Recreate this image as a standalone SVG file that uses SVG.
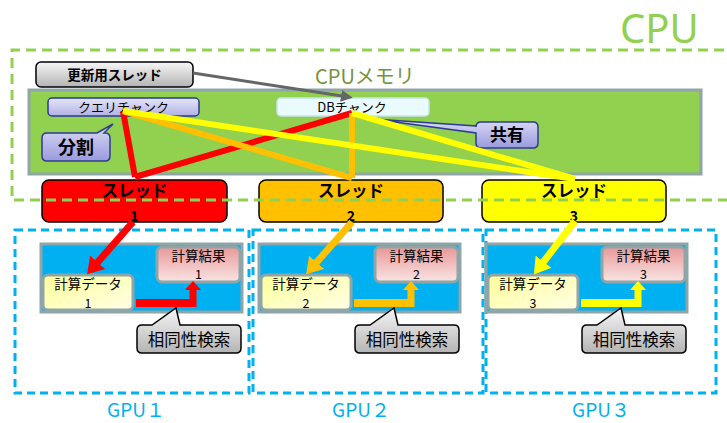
<svg xmlns="http://www.w3.org/2000/svg" width="727" height="423" viewBox="0 0 727 423">
<style>
.jp{font-family:"Noto Sans CJK JP","Noto Sans",sans-serif;}
.b{font-weight:bold;}
.thread{stroke:#000;stroke-width:1.5;}
.gmem{fill:#00b0f0;stroke:#8fa5a8;stroke-width:3;}
.inner{stroke:#8fa5a8;stroke-width:3;}
.gpubox{fill:none;stroke:#00b0f0;stroke-width:3;stroke-dasharray:8 5;}
.cpubox{fill:none;stroke:#92d050;stroke-width:3;stroke-dasharray:10 6;}
.ml{stroke-width:6;stroke-linecap:butt;fill:none;}
.gl{font-family:"Noto Sans CJK JP",sans-serif;font-size:19px;fill:#00b0f0;}
</style>
<defs>
<linearGradient id="gGray" x1="0" y1="0" x2="0" y2="1"><stop offset="0" stop-color="#f6f6f6"/><stop offset="1" stop-color="#b4b4b4"/></linearGradient>
<linearGradient id="gLav" x1="0" y1="0" x2="0" y2="1"><stop offset="0" stop-color="#e6e6f8"/><stop offset="1" stop-color="#b0b0e6"/></linearGradient>
<linearGradient id="gLav2" x1="0" y1="0" x2="0" y2="1"><stop offset="0" stop-color="#dcdcf6"/><stop offset="1" stop-color="#9a9ade"/></linearGradient>
<linearGradient id="gYel" x1="0" y1="0" x2="1" y2="1"><stop offset="0" stop-color="#ffff99"/><stop offset="1" stop-color="#fffee6"/></linearGradient>
<linearGradient id="gPink" x1="0" y1="0" x2="0" y2="1"><stop offset="0" stop-color="#e89898"/><stop offset="1" stop-color="#f9e4e4"/></linearGradient>
<marker id="arRed" viewBox="0 -10 16 20" refX="1" refY="0" markerWidth="16" markerHeight="20" markerUnits="userSpaceOnUse" orient="auto"><path d="M0,-10 L16,0 L0,10 z" fill="#ff0000"/></marker>
<marker id="arOrg" viewBox="0 -10 16 20" refX="1" refY="0" markerWidth="16" markerHeight="20" markerUnits="userSpaceOnUse" orient="auto"><path d="M0,-10 L16,0 L0,10 z" fill="#ffc000"/></marker>
<marker id="arYel" viewBox="0 -10 16 20" refX="1" refY="0" markerWidth="16" markerHeight="20" markerUnits="userSpaceOnUse" orient="auto"><path d="M0,-10 L16,0 L0,10 z" fill="#ffff00"/></marker>
<marker id="arGray" viewBox="0 -6 12 12" refX="1" refY="0" markerWidth="12" markerHeight="12" markerUnits="userSpaceOnUse" orient="auto"><path d="M0,-6 L12,0 L0,6 z" fill="#666666"/></marker>
</defs>

<g id="cpu-label">
<text x="620" y="43" font-family="'Noto Sans',sans-serif" font-size="40" fill="#92d050">CPU</text>
</g>
<g id="cpu-memory">
<text x="315" y="84" class="jp" font-size="20" fill="#76923c">CPUメモリ</text>
<rect x="29" y="90" width="672" height="84" fill="#92d050" stroke="#8fa5a8" stroke-width="3"/>
</g>
<g id="update-thread">
<rect x="36" y="62" width="157" height="25" rx="5" fill="url(#gGray)" stroke="#000" stroke-width="1.5"/>
<text x="114.5" y="80" class="jp b" font-size="13.5" text-anchor="middle">更新用スレッド</text>
</g>
<g id="query-chunk">
<rect x="48" y="98" width="151" height="18" rx="4" fill="url(#gLav)" stroke="#2a3990" stroke-width="1.5"/>
<text x="123.5" y="112" class="jp" font-size="13" text-anchor="middle">クエリチャンク</text>
</g>
<g id="db-chunk">
<rect x="277" y="98" width="152" height="18" rx="4" fill="#eafbfd" stroke="#c6e3ea" stroke-width="1.5"/>
<text x="352" y="112" class="jp" font-size="13" text-anchor="middle">DBチャンク</text>
</g>
<g id="split-callout">
<path d="M47,133 H97 L113,124 L104,133 H105 Q110,133 110,138 V156 Q110,161 105,161 H47 Q42,161 42,156 V138 Q42,133 47,133 Z" fill="url(#gLav2)" stroke="#2e3d8f" stroke-width="1.5"/>
<text x="76" y="154" class="jp b" font-size="18" text-anchor="middle">分割</text>
</g>
<g id="share-callout">
<path d="M481,122 H533 Q538,122 538,127 V143 Q538,148 533,148 H481 Q476,148 476,143 V133 L373,119 L476,126 V127 Q476,122 481,122 Z" fill="url(#gLav2)" stroke="#2e3d8f" stroke-width="1.5"/>
<text x="507" y="141" class="jp b" font-size="17" text-anchor="middle">共有</text>
</g>

<g id="thread-1">
<rect x="42" y="180" width="185" height="42" rx="7" fill="#ff0000" class="thread"/>
<text x="134.5" y="197" class="jp b" font-size="16.5" text-anchor="middle">スレッド</text>
<text x="134.5" y="221" class="jp b" font-size="14" text-anchor="middle">1</text>
</g>
<g id="thread-2">
<rect x="259" y="180" width="184" height="42" rx="7" fill="#ffc000" class="thread"/>
<text x="351" y="197" class="jp b" font-size="16.5" text-anchor="middle">スレッド</text>
<text x="351" y="221" class="jp b" font-size="14" text-anchor="middle">2</text>
</g>
<g id="thread-3">
<rect x="482" y="180" width="184" height="42" rx="7" fill="#ffff00" class="thread"/>
<text x="574" y="197" class="jp b" font-size="16.5" text-anchor="middle">スレッド</text>
<text x="574" y="221" class="jp b" font-size="14" text-anchor="middle">3</text>
</g>

<g id="cpu-box">
<path class="cpubox" d="M740,50 H12 V200 H740"/>
</g>

<g id="gpu-1">
<rect class="gpubox" x="15" y="230" width="234" height="163"/>
<rect class="gmem" x="41" y="244" width="201" height="68"/>
<rect class="inner" x="43" y="275" width="90" height="35" rx="5" fill="url(#gYel)"/>
<text x="88" y="289" class="jp" font-size="13.5" text-anchor="middle">計算データ</text>
<text x="88" y="308" class="jp" font-size="12.5" text-anchor="middle">1</text>
<rect class="inner" x="157" y="247" width="83" height="35" rx="5" fill="url(#gPink)"/>
<text x="198.5" y="261" class="jp" font-size="13.5" text-anchor="middle">計算結果</text>
<text x="198.5" y="279" class="jp" font-size="12.5" text-anchor="middle">1</text>
<path d="M136,299 H189.5 V290 H185 L193,281 L201,290 H196.5 V307 H136 Z" fill="#ff0000"/>
<path d="M142,325 H152 L176,308 L180,325 H236 Q241,325 241,330 V348 Q241,353 236,353 H142 Q137,353 137,348 V330 Q137,325 142,325 Z" fill="url(#gGray)" stroke="#000" stroke-width="1.5"/>
<text x="189" y="346" class="jp" font-size="16.5" text-anchor="middle">相同性検索</text>
<text x="136" y="417" class="gl" text-anchor="middle">GPU１</text>
</g>
<g id="gpu-2">
<rect class="gpubox" x="253" y="230" width="230" height="163"/>
<g transform="translate(218,0)">
<rect class="gmem" x="41" y="244" width="201" height="68"/>
<rect class="inner" x="43" y="275" width="90" height="35" rx="5" fill="url(#gYel)"/>
<text x="88" y="289" class="jp" font-size="13.5" text-anchor="middle">計算データ</text>
<text x="88" y="308" class="jp" font-size="12.5" text-anchor="middle">2</text>
<rect class="inner" x="157" y="247" width="83" height="35" rx="5" fill="url(#gPink)"/>
<text x="198.5" y="261" class="jp" font-size="13.5" text-anchor="middle">計算結果</text>
<text x="198.5" y="279" class="jp" font-size="12.5" text-anchor="middle">2</text>
<path d="M136,299 H189.5 V290 H185 L193,281 L201,290 H196.5 V307 H136 Z" fill="#ffc000"/>
<path d="M142,325 H152 L176,308 L180,325 H236 Q241,325 241,330 V348 Q241,353 236,353 H142 Q137,353 137,348 V330 Q137,325 142,325 Z" fill="url(#gGray)" stroke="#000" stroke-width="1.5"/>
<text x="189" y="346" class="jp" font-size="16.5" text-anchor="middle">相同性検索</text>
</g>
<text x="361" y="417" class="gl" text-anchor="middle">GPU２</text>
</g>
<g id="gpu-3">
<rect class="gpubox" x="486" y="230" width="230" height="163"/>
<g transform="translate(445,0)">
<rect class="gmem" x="41" y="244" width="201" height="68"/>
<rect class="inner" x="43" y="275" width="90" height="35" rx="5" fill="url(#gYel)"/>
<text x="88" y="289" class="jp" font-size="13.5" text-anchor="middle">計算データ</text>
<text x="88" y="308" class="jp" font-size="12.5" text-anchor="middle">3</text>
<rect class="inner" x="157" y="247" width="83" height="35" rx="5" fill="url(#gPink)"/>
<text x="198.5" y="261" class="jp" font-size="13.5" text-anchor="middle">計算結果</text>
<text x="198.5" y="279" class="jp" font-size="12.5" text-anchor="middle">3</text>
<path d="M136,299 H189.5 V290 H185 L193,281 L201,290 H196.5 V307 H136 Z" fill="#ffff00"/>
<path d="M142,325 H152 L176,308 L180,325 H236 Q241,325 241,330 V348 Q241,353 236,353 H142 Q137,353 137,348 V330 Q137,325 142,325 Z" fill="url(#gGray)" stroke="#000" stroke-width="1.5"/>
<text x="189" y="346" class="jp" font-size="16.5" text-anchor="middle">相同性検索</text>
</g>
<text x="601" y="417" class="gl" text-anchor="middle">GPU３</text>
</g>

<g id="connectors">
<line x1="193" y1="73" x2="342" y2="96" stroke="#666666" stroke-width="3" marker-end="url(#arGray)"/>
<line class="ml" x1="123" y1="111" x2="135" y2="177" stroke="#ff0000"/>
<line class="ml" x1="135" y1="177" x2="352" y2="113" stroke="#ff0000"/>
<line class="ml" x1="123" y1="111" x2="352" y2="178" stroke="#ffc000"/>
<line class="ml" x1="352" y1="178" x2="352" y2="113" stroke="#ffc000"/>
<line class="ml" x1="123" y1="111" x2="575" y2="179" stroke="#ffff00"/>
<line class="ml" x1="352" y1="113" x2="575" y2="179" stroke="#ffff00"/>
<line x1="133" y1="222" x2="97" y2="263" stroke="#ff0000" stroke-width="7" marker-end="url(#arRed)"/>
<line x1="352" y1="222" x2="316" y2="263" stroke="#ffc000" stroke-width="7" marker-end="url(#arOrg)"/>
<line x1="575" y1="221" x2="543" y2="262.5" stroke="#ffff00" stroke-width="7" marker-end="url(#arYel)"/>
</g>
</svg>
